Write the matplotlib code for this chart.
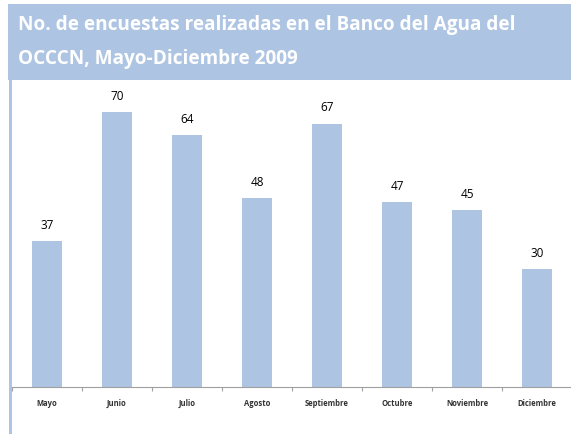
import matplotlib.pyplot as plt
from matplotlib.patches import Rectangle
import matplotlib.transforms as mtransforms

meses = ['Mayo', 'Junio', 'Julio', 'Agosto', 'Septiembre', 'Octubre', 'Noviembre', 'Diciembre']
encuestas = [37, 70, 64, 48, 67, 47, 45, 30]

azul = '#adc4e3'
W, H = 571, 434

fig = plt.figure(figsize=(W / 100, H / 100), dpi=100)

# banda del titulo y linea lateral
fig.patches.append(Rectangle((8 / W, 1 - 80 / H), 1, 76 / H, transform=fig.transFigure,
                             facecolor=azul, edgecolor='none', zorder=0))
fig.patches.append(Rectangle((9 / W, 0), 3 / W, 1 - 80 / H, transform=fig.transFigure,
                             facecolor=azul, edgecolor='none', zorder=0))
fig.text(18 / W, 1 - 30 / H, 'No. de encuestas realizadas en el Banco del Agua del',
         color='white', fontsize=13.7, fontweight='bold', family='Open Sans', va='baseline')
fig.text(18 / W, 1 - 64 / H, 'OCCCN, Mayo-Diciembre 2009',
         color='white', fontsize=13.7, fontweight='bold', family='Open Sans', va='baseline')

ax = fig.add_axes([12 / W, 1 - 387 / H, 560 / W, (387 - 96) / H])
x = list(range(len(meses)))
bars = ax.bar(x, encuestas, width=0.43, color=azul)
for b, v in zip(bars, encuestas):
    ax.text(b.get_x() + b.get_width() / 2, v + 2.3, str(v), ha='center', va='bottom',
            fontsize=8.5, color='black', family='Open Sans')

# nombres de los meses (misma linea base)
trans = mtransforms.blended_transform_factory(ax.transData, fig.transFigure)
for i, m in enumerate(meses):
    ax.text(i, 1 - 406 / H, m, transform=trans, ha='center', va='baseline',
            fontsize=5.5, fontweight='bold', family='Open Sans', color='#333333')

ax.set_xlim(-0.5, len(meses) - 0.5)
ax.set_ylim(0, 74)
ax.set_yticks([])
ax.set_xticks([i - 0.5 for i in range(len(meses) + 1)])
ax.set_xticklabels([])
ax.tick_params(axis='x', length=3, color='#a0a0a0', width=0.8)
for s in ['top', 'right', 'left']:
    ax.spines[s].set_visible(False)
ax.spines['bottom'].set_color('#a0a0a0')
ax.spines['bottom'].set_linewidth(0.8)

fig.savefig('out.png', dpi=100)
